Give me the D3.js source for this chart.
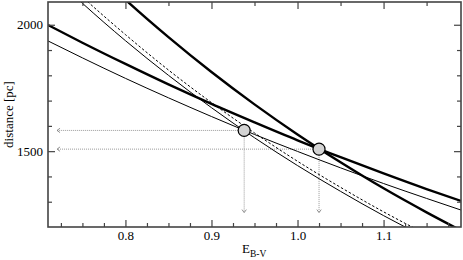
<!DOCTYPE html>
<html>
<head>
<meta charset="utf-8">
<script src="https://cdn.jsdelivr.net/npm/d3@7"></script>
<style>
  body { margin: 0; background: #fff; }
  text { font-family: "Liberation Serif", "Times New Roman", serif; }
</style>
</head>
<body>
<div id="chart"></div>
<script>
// colour excess grid and distances
var ebv = [0.71, 0.75, 0.80, 0.85, 0.90, 0.95, 1.00, 1.05, 1.10, 1.15, 1.19];
var thickShallow = [1999, 1929, 1845, 1764, 1687, 1614, 1543, 1476, 1412, 1350, 1303];
var thinShallow  = [1936, 1869, 1788, 1711, 1637, 1566, 1499, 1434, 1372, 1313, 1267];
var thickSteep   = [2395, 2259, 2099, 1951, 1813, 1685, 1566, 1456, 1353, 1258, 1186];
var thinSteep    = [2212, 2085, 1937, 1800, 1672, 1553, 1443, 1341, 1245, 1157, 1091];
var dashedSteep  = [2238, 2110, 1961, 1821, 1692, 1572, 1460, 1357, 1260, 1171, 1104];

var crossE = [0.938, 1.025];
var crossD = [1582, 1508];

var xMajor = [0.8, 0.9, 1.0, 1.1];
var yMajor = [1500, 2000];

var width = 463, height = 260;
var margin = {left: 48, right: 2, top: 2, bottom: 33};

var x = d3.scaleLinear().domain([0.71, 1.19]).range([margin.left, width - margin.right]);
var y = d3.scaleLinear().domain([1200, 2090]).range([height - margin.bottom, margin.top]);

var svg = d3.select('#chart').append('svg')
    .attr('width', width)
    .attr('height', height);

svg.append('clipPath').attr('id', 'clip')
  .append('rect')
    .attr('x', x.range()[0]).attr('y', y.range()[1])
    .attr('width', x.range()[1] - x.range()[0])
    .attr('height', y.range()[0] - y.range()[1]);

svg.append('defs').append('marker')
    .attr('id', 'head')
    .attr('viewBox', '-5 -4 6 8')
    .attr('markerUnits', 'userSpaceOnUse')
    .attr('markerWidth', 6).attr('markerHeight', 8)
    .attr('refX', 0).attr('refY', 0)
    .attr('orient', 'auto')
  .append('path')
    .attr('d', 'M-3,-2.2L0,0L-3,2.2')
    .attr('fill', 'none')
    .attr('stroke', '#777')
    .attr('stroke-width', 0.8);

// dotted arrows from the crossings to the axes
var arrows = svg.append('g');
crossE.forEach(function(e, i) {
    arrows.append('line')
        .attr('x1', x(e)).attr('y1', y(crossD[i]))
        .attr('x2', x(0.7205)).attr('y2', y(crossD[i]))
        .attr('stroke', '#999').attr('stroke-width', 1)
        .attr('stroke-dasharray', '1,1')
        .attr('marker-end', 'url(#head)');
    arrows.append('line')
        .attr('x1', x(e)).attr('y1', y(crossD[i]))
        .attr('x2', x(e)).attr('y2', y(1257))
        .attr('stroke', '#999').attr('stroke-width', 1)
        .attr('stroke-dasharray', '1,1')
        .attr('marker-end', 'url(#head)');
});

var curves = [
    {v: thinShallow, w: 1, dash: null},
    {v: thinSteep, w: 1, dash: null},
    {v: dashedSteep, w: 1, dash: '2.5,2'},
    {v: thickShallow, w: 2.4, dash: null},
    {v: thickSteep, w: 2.4, dash: null}
];

var line = d3.line()
    .x(function(d, i) { return x(ebv[i]); })
    .y(function(d) { return y(d); })
    .curve(d3.curveMonotoneX);

svg.append('g').attr('clip-path', 'url(#clip)')
  .selectAll('path')
  .data(curves)
  .enter().append('path')
    .attr('d', function(c) { return line(c.v); })
    .attr('fill', 'none')
    .attr('stroke', '#000')
    .attr('stroke-width', function(c) { return c.w; })
    .attr('stroke-dasharray', function(c) { return c.dash; });

svg.append('g').selectAll('circle')
  .data(crossE)
  .enter().append('circle')
    .attr('cx', function(d) { return x(d); })
    .attr('cy', function(d, i) { return y(crossD[i]); })
    .attr('r', 6)
    .attr('fill', '#d3d3d3')
    .attr('stroke', '#000')
    .attr('stroke-width', 1.2);

// axes: ticks point inwards on all four sides
var x0 = x.range()[0], x1 = x.range()[1], y0 = y.range()[0], y1 = y.range()[1];
var xMinorB = d3.range(0.725, 1.19, 0.025).filter(function(v) { return Math.abs(v * 10 - Math.round(v * 10)) > 1e-6; });
var xMinorT = d3.range(0.75, 1.19, 0.05).filter(function(v) { return Math.abs(v * 10 - Math.round(v * 10)) > 1e-6; });
var yMinor = d3.range(1300, 2090, 100).filter(function(v) { return v % 500 !== 0; });

function styleAxis(g) {
    g.select('.domain').remove();
    g.selectAll('line').attr('stroke', '#444').attr('stroke-width', 1.2);
    g.selectAll('text').attr('font-size', 13).attr('fill', '#000');
}

svg.append('g').attr('transform', 'translate(0,' + y0 + ')')
    .call(d3.axisBottom(x).tickValues(xMajor).tickSize(-7).tickPadding(4).tickFormat(d3.format('.1f')))
    .call(styleAxis);
svg.append('g').attr('transform', 'translate(0,' + y0 + ')')
    .call(d3.axisBottom(x).tickValues(xMinorB).tickSize(-4).tickFormat(''))
    .call(styleAxis);
svg.append('g').attr('transform', 'translate(0,' + y1 + ')')
    .call(d3.axisTop(x).tickValues(xMajor).tickSize(-7).tickFormat(''))
    .call(styleAxis);
svg.append('g').attr('transform', 'translate(0,' + y1 + ')')
    .call(d3.axisTop(x).tickValues(xMinorT).tickSize(-4).tickFormat(''))
    .call(styleAxis);
svg.append('g').attr('transform', 'translate(' + x0 + ',0)')
    .call(d3.axisLeft(y).tickValues(yMajor).tickSize(-7).tickPadding(5).tickFormat(d3.format('d')))
    .call(styleAxis);
svg.append('g').attr('transform', 'translate(' + x0 + ',0)')
    .call(d3.axisLeft(y).tickValues(yMinor).tickSize(-4).tickFormat(''))
    .call(styleAxis);
svg.append('g').attr('transform', 'translate(' + x1 + ',0)')
    .call(d3.axisRight(y).tickValues(yMajor).tickSize(-7).tickFormat(''))
    .call(styleAxis);
svg.append('g').attr('transform', 'translate(' + x1 + ',0)')
    .call(d3.axisRight(y).tickValues(yMinor).tickSize(-4).tickFormat(''))
    .call(styleAxis);

svg.append('rect')
    .attr('x', x0).attr('y', y1)
    .attr('width', x1 - x0).attr('height', y0 - y1)
    .attr('fill', 'none')
    .attr('stroke', '#444')
    .attr('stroke-width', 1.6);

var xl = svg.append('text')
    .attr('x', 242)
    .attr('y', 253)
    .attr('font-size', 13);
xl.append('tspan').text('E');
xl.append('tspan').attr('dy', 4).attr('font-size', 9.5).text('B-V');

svg.append('text')
    .attr('transform', 'translate(13,' + ((y0 + y1) / 2) + ') rotate(-90)')
    .attr('text-anchor', 'middle')
    .attr('font-size', 13)
    .attr('fill', '#000')
    .text('distance [pc]');
</script>
</body>
</html>
